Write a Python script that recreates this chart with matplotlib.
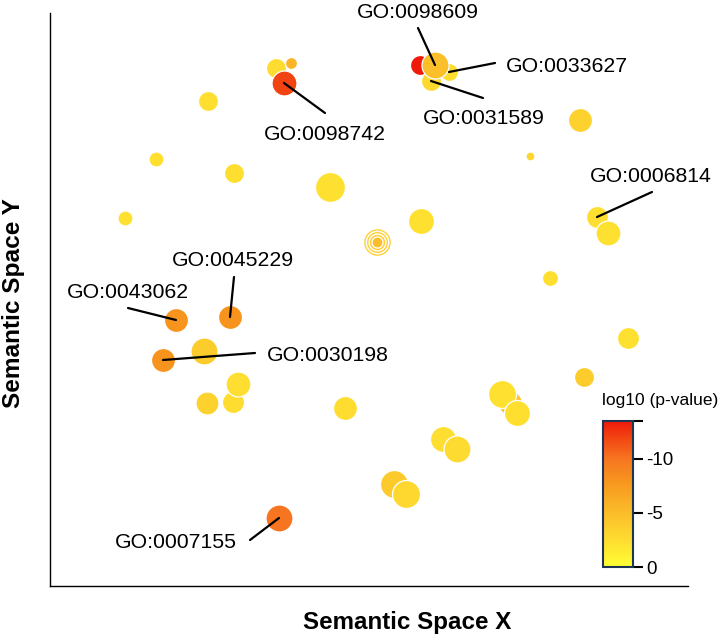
import matplotlib
matplotlib.use('Agg')
from matplotlib import pyplot as plt
from matplotlib.colors import LinearSegmentedColormap, Normalize
from matplotlib.cm import ScalarMappable

plt.rcParams['font.family'] = ['Liberation Sans', 'DejaVu Sans']

# GO terms in semantic space (drawing order)
sem_x = [4.52, 4.82, 4.68, 7.40, 7.98, 7.62, 7.70, 3.16, 10.60, 9.60,
         2.12, 3.68, 5.60, 1.50, 7.42, 6.54, 10.94, 11.16, 10.00, 11.56,
         10.68, 2.52, 3.60, 3.08, 2.26, 3.66, 3.76, 3.14, 5.90, 9.20,
         9.04, 9.34, 7.86, 8.14, 6.88, 7.12, 4.58]
sem_y = [10.36, 10.46, 10.06, 10.42, 10.28, 10.10, 10.42, 9.70, 9.32, 8.60,
         8.54, 8.26, 7.98, 7.36, 7.30, 6.88, 7.38, 7.06, 6.16, 4.96,
         4.18, 5.32, 5.38, 4.70, 4.52, 3.68, 4.04, 3.66, 3.56, 3.66,
         3.84, 3.46, 2.94, 2.74, 2.04, 1.84, 1.36]
log_size = [2.5, 1.5, 3.12, 2.5, 2.25, 2.5, 3.38, 2.5, 3.0, 1.12,
            1.88, 2.5, 3.75, 1.88, 3.25, 1.38, 2.75, 3.12, 2.0, 2.75,
            2.5, 3.0, 3.0, 3.38, 3.0, 2.75, 3.12, 2.88, 3.0, 3.0,
            3.5, 3.25, 3.25, 3.38, 3.5, 3.5, 3.38]
log_p = [-2.5, -5.5, -12.0, -13.5, -2.5, -2.8, -4.8, -2.3, -3.3, -3.0,
         -2.3, -2.3, -2.2, -2.2, -2.2, -5.0, -2.4, -2.2, -2.3, -2.2,
         -3.8, -8.0, -8.0, -3.8, -8.0, -2.5, -2.4, -3.3, -2.5, -4.5,
         -2.2, -2.3, -2.4, -2.6, -4.0, -2.8, -10.0]
term_ids = {3: 'GO:0098742', 7: 'GO:0098609', 5: 'GO:0033627', 6: 'GO:0031589',
            17: 'GO:0006814', 23: 'GO:0045229', 22: 'GO:0043062',
            25: 'GO:0030198', 37: 'GO:0007155'}
highlight = 16  # selected term, drawn with rings

# label layout: (line end dx, dy, text dx, dy, ha) in pixels
label_pos = {3: (41, -30, 41, -57, 'center'),
             7: (-17, 37, -17, 47, 'center'),
             5: (46, 9, 57, 0, 'left'),
             6: (52, -17, 53, -43, 'center'),
             17: (55, 25, 54, 35, 'center'),
             23: (4, 40, 3, 51, 'center'),
             22: (-48, 12, -48, 22, 'center'),
             25: (92, 7, 104, -1, 'left'),
             37: (-29, -22, -42, -30, 'right')}

cmap = LinearSegmentedColormap.from_list('pv', [
    (0.0, '#EE1A0A'), (0.111, '#F24412'), (0.259, '#F77520'),
    (0.407, '#F7941E'), (0.63, '#FBBD2A'), (0.815, '#FEDC30'), (1.0, '#FFFF33')])
norm = Normalize(vmin=-13.5, vmax=0)

fig = plt.figure(figsize=(7.24, 6.36), dpi=100)
W, H = 724, 636
ax = fig.add_axes([50 / W, (H - 586) / H, 638 / W, 573 / H])
ax.set_xlim(0, 12.76)
ax.set_ylim(0, 11.46)
for s in ['top', 'right']:
    ax.spines[s].set_visible(False)
for s in ['left', 'bottom']:
    ax.spines[s].set_linewidth(1.0)
ax.set_xticks([])
ax.set_yticks([])

def area(r_px):
    return (2 * r_px * 0.72) ** 2

# concentric rings of the highlighted term
hx, hy = sem_x[highlight - 1], sem_y[highlight - 1]
for r in [14, 11.2, 8.4]:
    ax.scatter([hx], [hy], s=area(r), color='#FDD03C', edgecolors='white',
               linewidths=1.0, zorder=2)

for i in range(len(sem_x)):
    ax.scatter([sem_x[i]], [sem_y[i]], s=area(4 * log_size[i]),
               color=cmap(norm(log_p[i])), edgecolors='white', linewidths=0.9,
               zorder=2)

for k, name in term_ids.items():
    x, y = sem_x[k - 1], sem_y[k - 1]
    lx, ly, tx, ty, ha = label_pos[k]
    ax.annotate('', xy=(x, y), xytext=(lx, ly), textcoords='offset pixels',
                arrowprops=dict(arrowstyle='-', lw=1.6, color='black',
                                shrinkA=0, shrinkB=0), zorder=3)
    ax.annotate(name, xy=(x, y), xytext=(tx, ty), textcoords='offset pixels',
                ha=ha, va='baseline', fontsize=15.3, color='black', zorder=4,
                annotation_clip=False)

fig.text(407 / W, 1 - 623 / H, 'Semantic Space X', ha='center', va='center',
         fontsize=17.4, fontweight='bold')
fig.text(14 / W, 1 - 303 / H, 'Semantic Space Y', ha='center', va='center',
         fontsize=17.6, fontweight='bold', rotation=90)

# colour bar
cax = fig.add_axes([603 / W, (H - 567) / H, 30 / W, 146 / H])
sm = ScalarMappable(norm=norm, cmap=cmap)
cb = fig.colorbar(sm, cax=cax)
cax.invert_yaxis()
cb.outline.set_edgecolor('#1F3555')
cb.outline.set_linewidth(1.5)
cb.set_ticks([-13.5, -10, -5, 0])
cb.set_ticklabels(['', '-10', '-5', '0'])
cax.tick_params(length=7.5, width=1.5, labelsize=13.5, pad=2)
fig.text(660 / W, 1 - 400 / H, 'log10 (p-value)', ha='center', va='center',
         fontsize=12.5)

fig.savefig('out.png', dpi=100)
